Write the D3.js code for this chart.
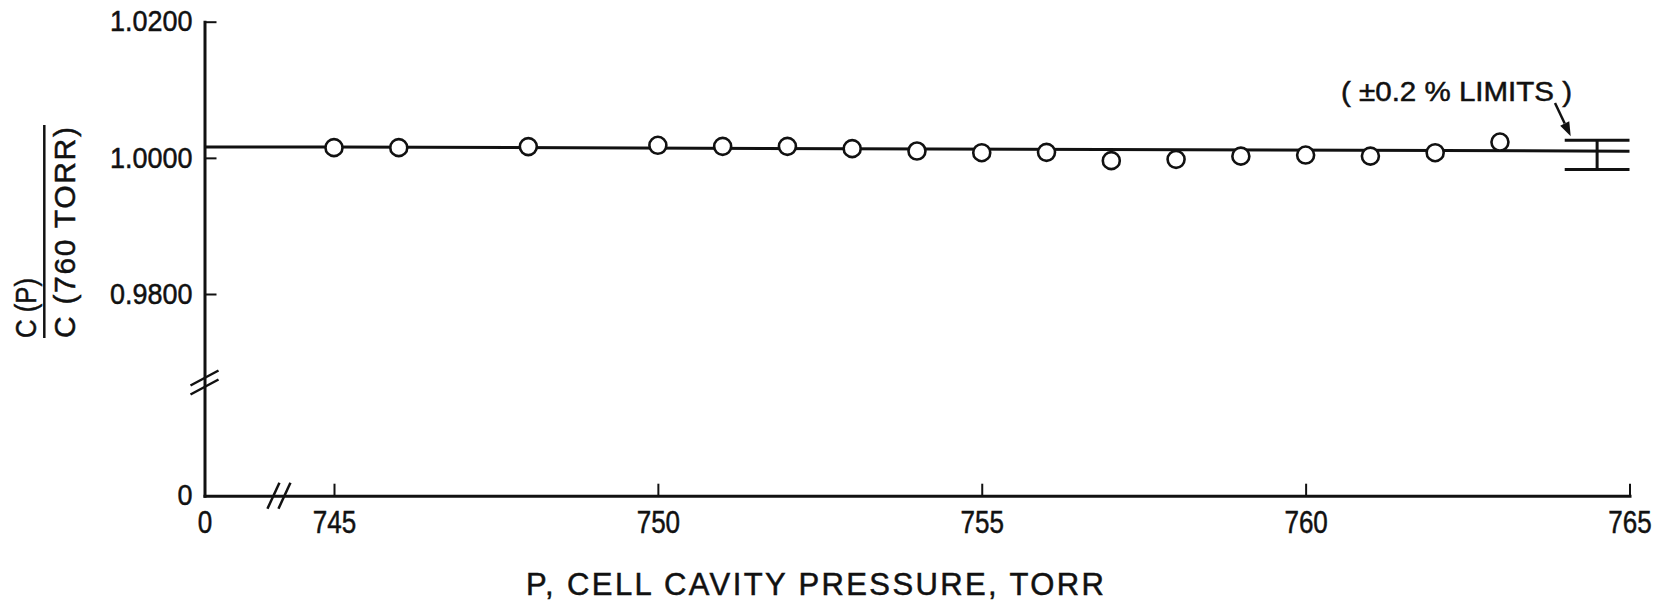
<!DOCTYPE html>
<html>
  <head>
    <meta charset="UTF-8">
    <title>C(P) / C(760 torr) vs cell cavity pressure</title>
    <script src="https://d3js.org/d3.v7.min.js"></script>
    <style>
      body { margin: 0; background: #fff; }
      svg text { font-family: "Liberation Sans", Arial, sans-serif; fill: #111; stroke: #111; stroke-width: 0.5px; }
    </style>
  </head>

  <body>
    <div class="chart"></div>

    <script type="application/javascript">
      const pressure = [745, 746, 748, 750, 751, 752, 753, 754, 755, 756, 757, 758, 759, 760, 761, 762, 763];
      const ratio = [1.00150, 1.00150, 1.00165, 1.00184, 1.00169, 1.00169, 1.00135, 1.00100, 1.00076,
                     1.00081, 0.99959, 0.99978, 1.00025, 1.00041, 1.00026, 1.00076, 1.00232];
      // fitted line
      const fitP = [0, 745, 765];
      const fitC = [1.00159, 1.00159, 1.00098];
      // +-0.2 % limits bar
      const limitP = [764, 764.5, 765];
      const limitC = [0.9983, 1.0026];
      // axes
      const xTicks = [0, 745, 750, 755, 760, 765];
      const xTickLabels = ["0", "745", "750", "755", "760", "765"];
      const yTicks = [0, 0.98, 1.0, 1.02];
      const yTickLabels = ["0", "0.9800", "1.0000", "1.0200"];
      const xBreak = 744.15, yBreak = 0.967;

      const W = 1672, H = 608;
      const svg = d3.select(".chart").append("svg")
        .attr("width", W).attr("height", H);

      // broken scales: a short stub from 0 to the break, then the real range
      const xr = d3.scaleLinear().domain([745, 765]).range([334, 1629.5]);
      const x = d3.scaleLinear().domain([0, xBreak, 765]).range([204.5, xr(xBreak), 1629.5]);
      const yr = d3.scaleLinear().domain([0.98, 1.02]).range([294, 21.7]);
      const y = d3.scaleLinear().domain([0, yBreak, 1.02]).range([495.7, yr(yBreak), 21.7]);

      // the lettering is tall and narrow, squeeze the glyphs a bit
      function narrow(sel, k) {
        sel.each(function() {
          const w = this.getComputedTextLength();
          d3.select(this).attr("textLength", w * k).attr("lengthAdjust", "spacingAndGlyphs");
        });
      }

      function styleAxis(g) {
        g.attr("font-size", null).attr("font-family", null);
        g.select(".domain").attr("stroke", "#111").attr("stroke-width", 3).attr("stroke-linecap", "square");
        g.selectAll(".tick line").attr("stroke", "#111").attr("stroke-width", 2);
        g.selectAll(".tick text").attr("fill", "#111");
      }

      const xAxis = d3.axisBottom(x)
        .tickValues(xTicks)
        .tickFormat((d, i) => xTickLabels[i])
        .tickSizeInner(-12).tickSizeOuter(0).tickPadding(15);
      svg.append("g")
        .attr("transform", `translate(0,${y(0)})`)
        .call(xAxis)
        .call(styleAxis)
        .call(g => g.selectAll(".tick text").attr("font-size", 31).call(narrow, 0.84));

      const yAxis = d3.axisLeft(y)
        .tickValues(yTicks)
        .tickFormat((d, i) => yTickLabels[i])
        .tickSizeInner(-12).tickSizeOuter(0).tickPadding(12);
      svg.append("g")
        .attr("transform", `translate(${x(0)},0)`)
        .call(yAxis)
        .call(styleAxis)
        .call(g => g.selectAll(".tick text").attr("font-size", 29).call(narrow, 0.93))
        .call(g => g.selectAll(".tick").filter(d => d === 0).select("line").remove());

      // axis break marks
      const bx = x(xBreak), by = y(0);
      [-5.5, 5.5].forEach(o => {
        svg.append("line")
          .attr("x1", bx + o - 6).attr("y1", by + 13)
          .attr("x2", bx + o + 6).attr("y2", by - 13)
          .attr("stroke", "#111").attr("stroke-width", 2.5);
      });
      const yb = y(yBreak), ax = x(0);
      [-4.5, 4.5].forEach(o => {
        svg.append("line")
          .attr("x1", ax - 14).attr("y1", yb + o + 7.5)
          .attr("x2", ax + 14).attr("y2", yb + o - 7.5)
          .attr("stroke", "#111").attr("stroke-width", 2.5);
      });

      // fitted line
      const fit = fitP.map((p, i) => [p, fitC[i]]);
      svg.append("path")
        .datum(fit)
        .attr("d", d3.line().x(d => x(d[0])).y(d => y(d[1])))
        .attr("fill", "none").attr("stroke", "#111").attr("stroke-width", 3);

      // limits bar
      const lim = svg.append("g").attr("stroke", "#111").attr("stroke-width", 3);
      limitC.forEach(c => {
        lim.append("line")
          .attr("x1", x(limitP[0])).attr("x2", x(limitP[2]))
          .attr("y1", y(c)).attr("y2", y(c));
      });
      lim.append("line")
        .attr("x1", x(limitP[1])).attr("x2", x(limitP[1]))
        .attr("y1", y(limitC[0])).attr("y2", y(limitC[1]));

      // points
      svg.append("g")
        .selectAll("circle")
        .data(pressure)
        .join("circle")
        .attr("cx", d => x(d))
        .attr("cy", (d, i) => y(ratio[i]))
        .attr("r", 8.5)
        .attr("fill", "#fff").attr("stroke", "#111").attr("stroke-width", 2.6);

      // annotation + arrow
      svg.append("text")
        .attr("x", 1341).attr("y", 101)
        .attr("font-size", 27)
        .attr("textLength", 231).attr("lengthAdjust", "spacingAndGlyphs")
        .text("( \u00B10.2 % LIMITS )");
      const a0 = [1555, 103], tip = [x(limitP[0]) + 6, y(limitC[1]) - 4];
      const dx = tip[0] - a0[0], dy = tip[1] - a0[1], len = Math.hypot(dx, dy);
      const ux = dx / len, uy = dy / len;
      const base = [tip[0] - 14 * ux, tip[1] - 14 * uy];
      svg.append("line")
        .attr("x1", a0[0]).attr("y1", a0[1]).attr("x2", base[0]).attr("y2", base[1])
        .attr("stroke", "#111").attr("stroke-width", 2.5);
      svg.append("path")
        .attr("d", `M${tip[0]},${tip[1]}L${base[0] - 5 * uy},${base[1] + 5 * ux}L${base[0] + 5 * uy},${base[1] - 5 * ux}Z`)
        .attr("fill", "#111");

      // y axis title, a fraction set on its side
      svg.append("text")
        .attr("transform", "translate(36,338) rotate(-90)")
        .attr("font-size", 29)
        .attr("textLength", 60).attr("lengthAdjust", "spacingAndGlyphs")
        .text("C (P)");
      svg.append("line")
        .attr("x1", 44.3).attr("x2", 44.3).attr("y1", 125).attr("y2", 338)
        .attr("stroke", "#111").attr("stroke-width", 2.5);
      svg.append("text")
        .attr("transform", "translate(75,338) rotate(-90)")
        .attr("font-size", 30)
        .attr("textLength", 211).attr("lengthAdjust", "spacing")
        .text("C (760 TORR)");

      // x axis title
      svg.append("text")
        .attr("x", 526).attr("y", 595)
        .attr("font-size", 31)
        .attr("textLength", 578).attr("lengthAdjust", "spacing")
        .text("P, CELL CAVITY PRESSURE, TORR");
    </script>
  </body>

</html>
